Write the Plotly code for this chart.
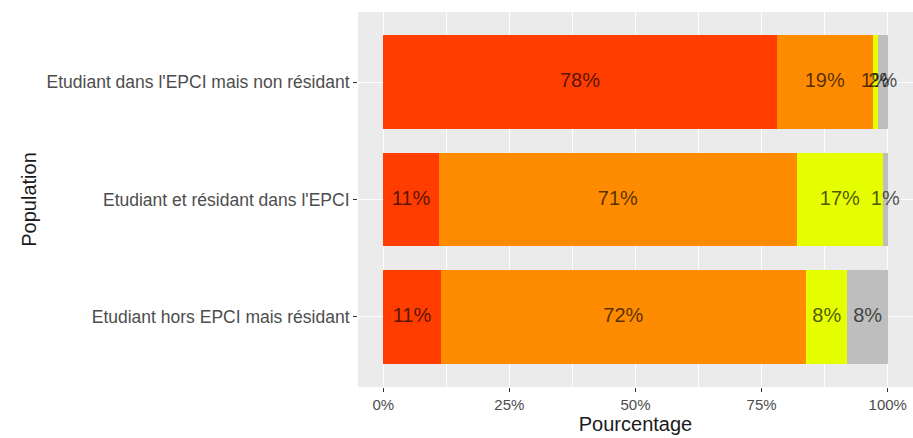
import plotly.graph_objects as go

# Populations, listed from top to bottom of the chart
populations = [
    "Etudiant dans l'EPCI mais non résidant",
    "Etudiant et résidant dans l'EPCI",
    "Etudiant hors EPCI mais résidant",
]

# Share of each response category (percent), per population
part_a = [78.0, 11.0, 11.4]
part_b = [19.0, 71.0, 72.4]
part_c = [1.0, 17.0, 8.2]
part_d = [2.0, 1.0, 8.0]

series = [
    ("Modalité A", part_a, "#FF3D00"),
    ("Modalité B", part_b, "#FF8C00"),
    ("Modalité C", part_c, "#E6FF00"),
    ("Modalité D", part_d, "#BEBEBE"),
]

x_ticks = [0, 25, 50, 75, 100]
x_tick_labels = ["0%", "25%", "50%", "75%", "100%"]

FONT = "Liberation Sans, Arial, sans-serif"

fig = go.Figure()

# Stacked bars
for name, values, color in series:
    fig.add_trace(go.Bar(
        y=populations, x=values, name=name, orientation="h",
        marker=dict(color=color, line=dict(width=0)),
        width=0.8, showlegend=False, hoverinfo="x+y",
    ))

# Percentage labels centred in each segment
cum = [0.0] * len(populations)
for name, values, color in series:
    centers = [c + v / 2 for c, v in zip(cum, values)]
    cum = [c + v for c, v in zip(cum, values)]
    fig.add_trace(go.Scatter(
        y=populations, x=centers, mode="text",
        text=[f"{round(v)}%" for v in values],
        textfont=dict(family=FONT, size=20, color="rgba(0,0,0,0.68)"),
        showlegend=False, hoverinfo="skip",
    ))

fig.update_layout(
    width=913, height=438,
    margin=dict(l=358, r=0, t=12, b=51),
    paper_bgcolor="white",
    plot_bgcolor="#EBEBEB",
    barmode="stack",
    font=dict(family=FONT, color="#4D4D4D"),
)

fig.update_xaxes(
    range=[-5, 105],
    tickmode="array", tickvals=x_ticks, ticktext=x_tick_labels,
    tickfont=dict(size=15, color="#4D4D4D"),
    ticks="outside", ticklen=4, tickcolor="#333333", tickwidth=1,
    showgrid=True, gridcolor="white", gridwidth=1.4,
    minor=dict(tickmode="array", tickvals=[12.5, 37.5, 62.5, 87.5],
               showgrid=True, gridcolor="white", gridwidth=0.7),
    zeroline=False, showline=False,
    title=dict(text="Pourcentage", font=dict(size=20, color="#1A1A1A"), standoff=2),
)

fig.update_yaxes(
    type="category",
    categoryorder="array", categoryarray=list(reversed(populations)),
    range=[-0.6, 2.6],
    tickfont=dict(size=17.5, color="#4D4D4D"),
    ticks="outside", ticklen=4, tickcolor="#333333", tickwidth=1,
    showgrid=True, gridcolor="white", gridwidth=1.4,
    zeroline=False, showline=False,
    title=dict(text="Population", font=dict(size=20, color="#1A1A1A"), standoff=4),
)

fig.write_html("out.html")
